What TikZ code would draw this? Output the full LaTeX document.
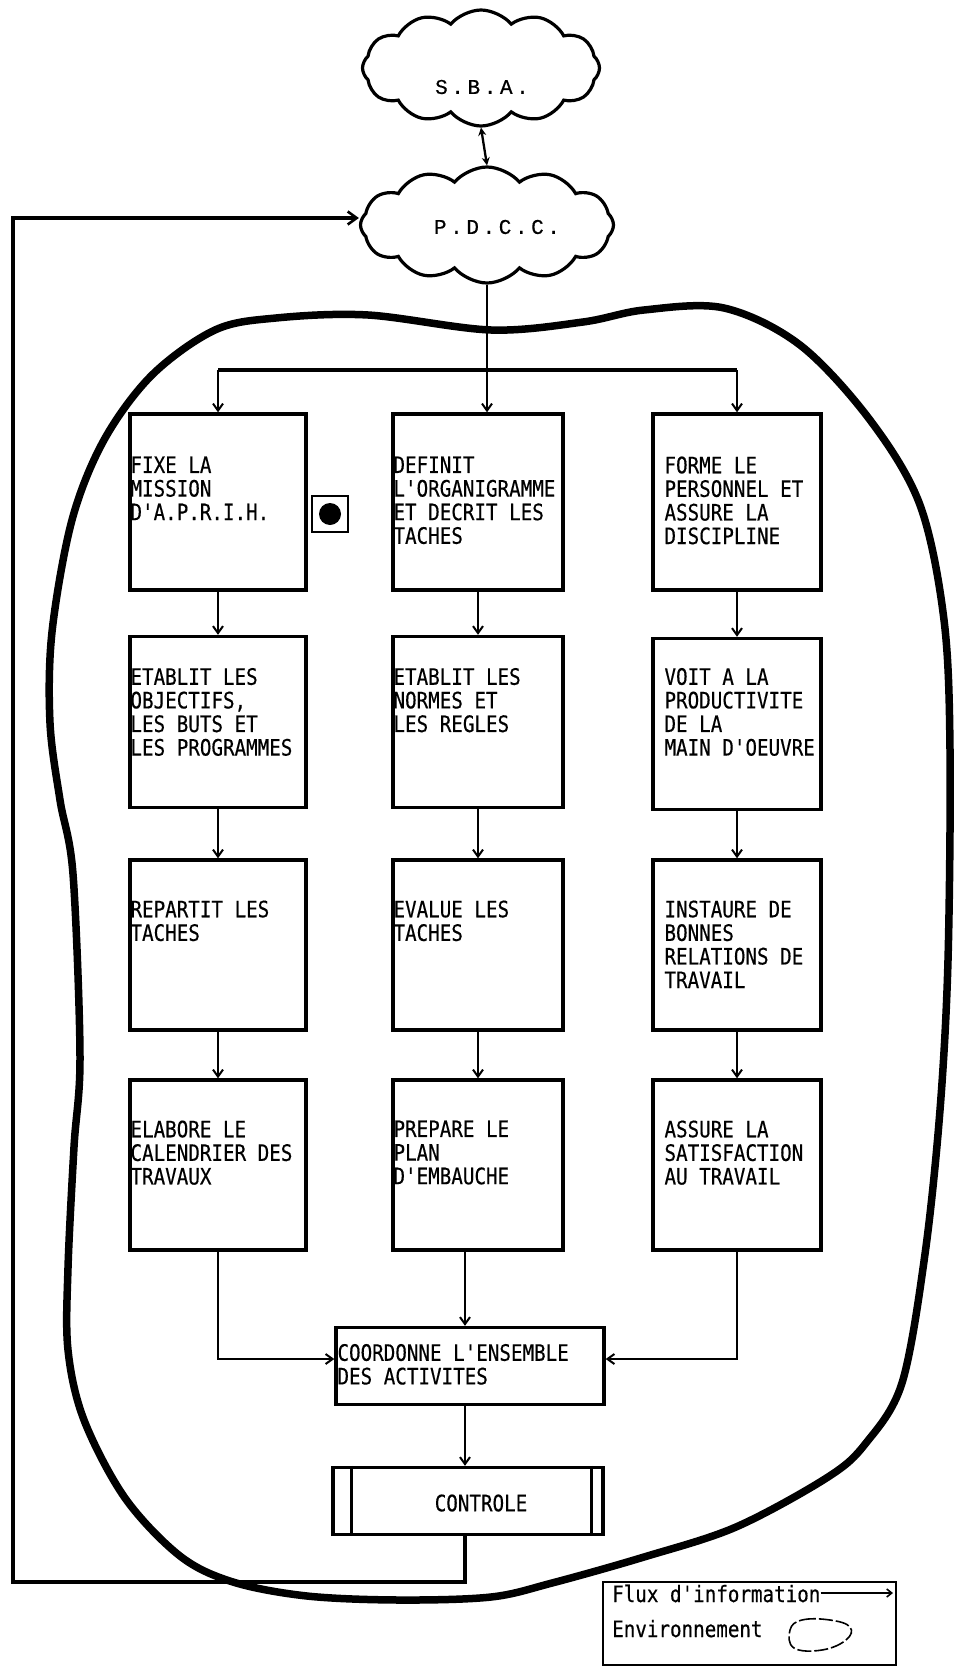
\documentclass[tikz,border=0pt]{standalone}
\usepackage{fontspec}
\usetikzlibrary{arrows.meta,shapes.symbols,calc}
\newfontfamily\boxfont[FakeStretch=0.85,FakeBold=0.4]{DejaVu Sans Mono}
\newfontfamily\cloudfont[FakeBold=0.5]{Liberation Mono}
\newcommand\btfont{\boxfont\fontsize{22.6}{23.6}\selectfont}
\newcommand\cltfont{\cloudfont\fontsize{21}{24}\selectfont}
\newcommand\myks{\kern3.6pt}
\tikzset{
 bx/.style={draw, line width=3.4pt, inner sep=0pt},
 bt/.style={anchor=north west, inner sep=0pt, align=left, font=\btfont},
 arr/.style={line width=2.3pt, -{Straight Barb[length=7pt,width=10pt,line width=2pt]}},
 cl/.style={cloud, draw, line width=3.2pt, cloud puffs=12, cloud puff arc=100, aspect=2.1, inner sep=0pt},
}
\begin{document}
\begin{tikzpicture}[x=1pt,y=-1pt]
\useasboundingbox (0,0) rectangle (963,1667);
% clouds
\node[cl, minimum width=237pt, minimum height=116pt] (sba) at (481,68) {};
\node[cl, minimum width=253pt, minimum height=116pt] (pdcc) at (487,225) {};
\node[font=\cltfont, inner sep=0pt] (sbat) at (482,87) {S\myks.\myks B\myks.\myks A\myks.};
\node[font=\cltfont, inner sep=0pt] (pdcct) at (497,227) {P\myks.\myks D\myks.\myks C\myks.\myks C\myks.};
\draw[line width=2.3pt, {Stealth[length=8pt,width=8pt]}-{Stealth[length=8pt,width=8pt]}] (sba.south) -- (pdcc.north);
% environment blob
\draw[line width=7.5pt, line join=round] plot[smooth cycle, tension=0.55] coordinates {
(491,330) (583,322) (644,310) (724,308) (800,345) (870,420) (920,505) (944,620) (950,750) (948,960) (940,1110) (925,1254) (902,1383) (866,1443) (828,1477) (736,1527) (644,1557) (552,1583) (491,1597) (399,1600) (307,1596) (233,1582) (180,1556) (125,1498) (84,1420) (68,1350) (68,1268) (74,1147) (80,1056) (73,874) (60,800) (50,723) (52,632) (72,520) (104,440) (152,375) (215,330) (276,318) (368,315)};
% boxes
\node[bx, minimum width=176pt, minimum height=176pt] (b11) at (218,502) {};
\node[bx, minimum width=176pt, minimum height=171pt] (b12) at (218,722) {};
\node[bx, minimum width=176pt, minimum height=170pt] (b13) at (218,945) {};
\node[bx, minimum width=176pt, minimum height=170pt] (b14) at (218,1165) {};
\node[bx, minimum width=170pt, minimum height=176pt] (b21) at (478,502) {};
\node[bx, minimum width=170pt, minimum height=171pt] (b22) at (478,722) {};
\node[bx, minimum width=170pt, minimum height=170pt] (b23) at (478,945) {};
\node[bx, minimum width=170pt, minimum height=170pt] (b24) at (478,1165) {};
\node[bx, minimum width=168pt, minimum height=176pt] (b31) at (737,502) {};
\node[bx, minimum width=168pt, minimum height=171pt] (b32) at (737,724) {};
\node[bx, minimum width=168pt, minimum height=170pt] (b33) at (737,945) {};
\node[bx, minimum width=168pt, minimum height=170pt] (b34) at (737,1165) {};
% texts
\node[bt] (t11) at ($(b11.north west)+(2,44)$) {FIXE LA\\MISSION\\D'A.P.R.I.H.};
\node[bt] (t12) at ($(b12.north west)+(2,33)$) {ETABLIT LES\\OBJECTIFS,\\LES BUTS ET\\LES PROGRAMMES};
\node[bt] (t13) at ($(b13.north west)+(2,42)$) {REPARTIT LES\\TACHES};
\node[bt] (t14) at ($(b14.north west)+(2,42)$) {ELABORE LE\\CALENDRIER DES\\TRAVAUX};
\node[bt] (t21) at ($(b21.north west)+(2,44)$) {DEFINIT\\L'ORGANIGRAMME\\ET DECRIT LES\\TACHES};
\node[bt] (t22) at ($(b22.north west)+(2,33)$) {ETABLIT LES\\NORMES ET\\LES REGLES};
\node[bt] (t23) at ($(b23.north west)+(2,42)$) {EVALUE LES\\TACHES};
\node[bt] (t24) at ($(b24.north west)+(2,42)$) {PREPARE LE\\PLAN\\D'EMBAUCHE};
\node[bt] (t31) at ($(b31.north west)+(13,44)$) {FORME LE\\PERSONNEL ET\\ASSURE LA\\DISCIPLINE};
\node[bt] (t32) at ($(b32.north west)+(13,31)$) {VOIT A LA\\PRODUCTIVITE\\DE LA\\MAIN D'OEUVRE};
\node[bt] (t33) at ($(b33.north west)+(13,42)$) {INSTAURE DE\\BONNES\\RELATIONS DE\\TRAVAIL};
\node[bt] (t34) at ($(b34.north west)+(13,42)$) {ASSURE LA\\SATISFACTION\\AU TRAVAIL};
% marker
\node[draw, line width=1.6pt, minimum size=36pt, inner sep=0pt] (mark) at (330,514) {};
\node[circle, fill, minimum size=22pt, inner sep=0pt] (dot) at (mark.center) {};
% coordination and control
\node[bx, minimum width=268pt, minimum height=77pt] (co) at (470,1366) {};
\node[bt] (cot) at ($(co.north west)+(3,18)$) {COORDONNE L'ENSEMBLE\\DES ACTIVITES};
\node[bx, minimum width=270pt, minimum height=67pt] (ctrl) at (468,1501) {};
\draw[line width=2.6pt] ($(ctrl.north west)+(20,0)$) -- ($(ctrl.south west)+(20,0)$);
\draw[line width=2.6pt] ($(ctrl.north east)+(-13,0)$) -- ($(ctrl.south east)+(-13,0)$);
\node[font=\btfont, inner sep=0pt] (ctrlt) at (481,1503) {CONTROLE};
% distribution
\coordinate (dist) at (484,370);
\draw[arr] (pdcc.south) -- (pdcc.south |- b21.north);
\draw[line width=3.6pt] (b11.north |- dist) -- (b31.north |- dist);
\draw[arr] (b11.north |- dist) -- (b11.north);
\draw[arr] (b31.north |- dist) -- (b31.north);
% column arrows
\foreach \c in {1,2,3}{
  \draw[arr] (b\c1.south) -- (b\c2.north);
  \draw[arr] (b\c2.south) -- (b\c3.north);
  \draw[arr] (b\c3.south) -- (b\c4.north);
}
\coordinate (cw) at ($(co.west)+(0,-7)$);
\coordinate (ce) at ($(co.east)+(0,-7)$);
\coordinate (cn) at ($(co.north)+(-5,0)$);
\coordinate (cs) at ($(co.south)+(-5,0)$);
\coordinate (kn) at ($(ctrl.north)+(-3,0)$);
\coordinate (ks) at ($(ctrl.south)+(-3,0)$);
\draw[arr] (b14.south) -- (b14.south |- cw) -- (cw);
\draw[arr] (b34.south) -- (b34.south |- ce) -- (ce);
\draw[arr] (b24.south -| cn) -- (cn);
\draw[arr] (cs) -- (kn);
% feedback
\coordinate (fb1) at (13,1582);
\coordinate (fb2) at (13,218);
\draw[line width=3.4pt, line join=miter, -{Straight Barb[length=9pt,width=13pt,line width=2.6pt]}] (ks) -- (ks |- fb1) -- (fb1) -- (fb2) -- (fb2 -| pdcc.west);
% legend
\node[draw, line width=2.2pt, minimum width=293pt, minimum height=83pt, inner sep=0pt] (leg) at (749.5,1623.5) {};
\node[font=\btfont, anchor=base west, inner sep=0pt] (flux) at (612,1602) {Flux d'information};
\node[font=\btfont, anchor=base west, inner sep=0pt] (env) at (612,1637) {Environnement};
\coordinate (fluxend) at (893,1593);
\draw[line width=1.6pt, -{Straight Barb[length=5pt,width=8pt]}] (flux.east |- fluxend) -- (fluxend);
\draw[line width=1.6pt, dash pattern=on 14pt off 3pt] plot[smooth cycle, tension=0.7] coordinates {(790,1630) (802,1620) (830,1620) (850,1627) (846,1640) (822,1650) (794,1648)};
\end{tikzpicture}
\end{document}
